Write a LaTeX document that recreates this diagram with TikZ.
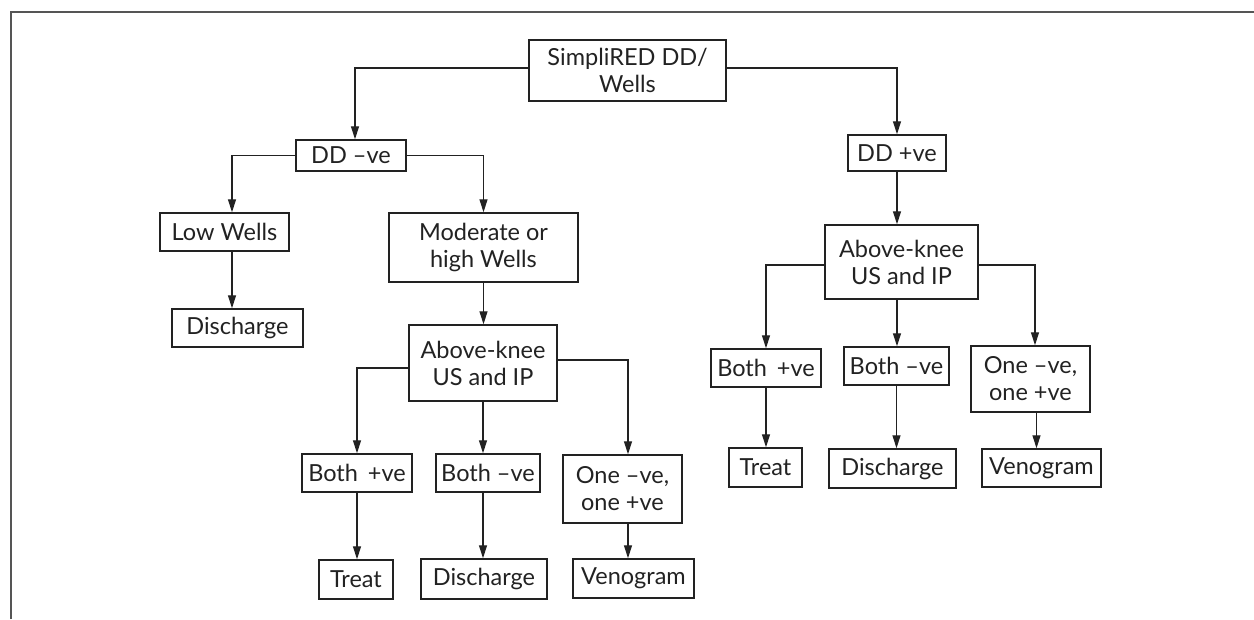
\documentclass[tikz,border=0pt]{standalone}
\usepackage{fontspec}
\setmainfont{Lato}
\usetikzlibrary{arrows.meta}
\definecolor{ink}{HTML}{222222}
\definecolor{rule}{HTML}{555555}
\begin{document}
\begin{tikzpicture}[x=1pt,y=-1pt,
  box/.style={draw=ink, line width=1.5pt, inner sep=0pt, align=center,
    text=ink, font=\fontsize{23.5}{27}\selectfont},
  arr/.style={draw=ink, line width=1.3pt, -{Triangle[length=13pt,width=8pt]}}]
\useasboundingbox (0,0) rectangle (1254,619);
% partial frame
\draw[rule, line width=2.2pt] (11,619) -- (11,12) -- (1254,12);

% root
\node[box, minimum width=197, minimum height=61] (root) at (627.5,70.5) {SimpliRED DD/\\Wells};

% negative D-dimer branch
\node[box, minimum width=110, minimum height=31] (ddneg) at (351,155.5) {DD –ve};
\node[box, minimum width=129, minimum height=38] (low) at (224.5,232) {Low Wells};
\node[box, minimum width=131, minimum height=38] (dis1) at (237.5,328) {Discharge};
\node[box, minimum width=189, minimum height=69] (mod) at (483.5,247.5) {Moderate or\\high Wells};
\node[box, minimum width=148, minimum height=76] (ak1) at (483,363) {Above-knee\\US and IP};
\node[box, minimum width=110, minimum height=38] (bp1) at (357,473) {Both \,+ve};
\node[box, minimum width=104, minimum height=38] (bn1) at (488,473) {Both –ve};
\node[box, minimum width=119, minimum height=68] (one1) at (622.5,489) {One –ve,\\one +ve};
\node[box, minimum width=74, minimum height=39] (tr1) at (356,579.5) {Treat};
\node[box, minimum width=126, minimum height=40] (dis2) at (484,579) {Discharge};
\node[box, minimum width=121, minimum height=39] (ven1) at (633.5,578.5) {Venogram};

% positive D-dimer branch
\node[box, minimum width=98, minimum height=36] (ddpos) at (897,153) {DD +ve};
\node[box, minimum width=153, minimum height=74] (ak2) at (901.5,262) {Above-knee\\US and IP};
\node[box, minimum width=110, minimum height=38] (bp2) at (766,368) {Both \,+ve};
\node[box, minimum width=105, minimum height=38] (bn2) at (896.5,366) {Both –ve};
\node[box, minimum width=119, minimum height=66] (one2) at (1030.5,379) {One –ve,\\one +ve};
\node[box, minimum width=73, minimum height=39] (tr2) at (765.5,467.5) {Treat};
\node[box, minimum width=127, minimum height=39] (dis3) at (892.5,468.5) {Discharge};
\node[box, minimum width=119, minimum height=38] (ven2) at (1041.5,468) {Venogram};

% connectors from the root
\draw[arr] ([yshift=2.5]root.west) -| ([xshift=4]ddneg.north);
\draw[arr] ([yshift=2.5]root.east) -| (ddpos.north);

% left tree
\draw[arr] (ddneg.west) -| ([xshift=7.5]low.north);
\draw[arr] (ddneg.east) -| (mod.north);
\draw[arr] ([xshift=7.5]low.south) -- ([xshift=7.5]low.south |- dis1.north);
\draw[arr] (mod.south) -- (mod.south |- ak1.north);
\draw[arr] ([yshift=-5]ak1.west) -| (bp1.north);
\draw[arr] (ak1.south) -- (ak1.south |- bn1.north);
\draw[arr] ([yshift=3]ak1.east) -| ([xshift=5.5]one1.north);
\draw[arr] (bp1.south) -- (bp1.south |- tr1.north);
\draw[arr] (ak1.south |- bn1.south) -- (ak1.south |- dis2.north);
\draw[arr] ([xshift=5.5]one1.south) -- ([xshift=5.5]one1.south |- ven1.north);

% right tree
\draw[arr] (ddpos.south) -- (ddpos.south |- ak2.north);
\draw[arr] ([yshift=-3]ak2.west) -| (bp2.north);
\draw[arr] (ddpos.south |- ak2.south) -- (ddpos.south |- bn2.north);
\draw[arr] ([yshift=-3]ak2.east) -| ([xshift=4.5]one2.north);
\draw[arr] (bp2.south) -- (bp2.south |- tr2.north);
\draw[arr] (bn2.south) -- (bn2.south |- dis3.north);
\draw[arr] ([xshift=6]one2.south) -- ([xshift=6]one2.south |- ven2.north);
\end{tikzpicture}
\end{document}
